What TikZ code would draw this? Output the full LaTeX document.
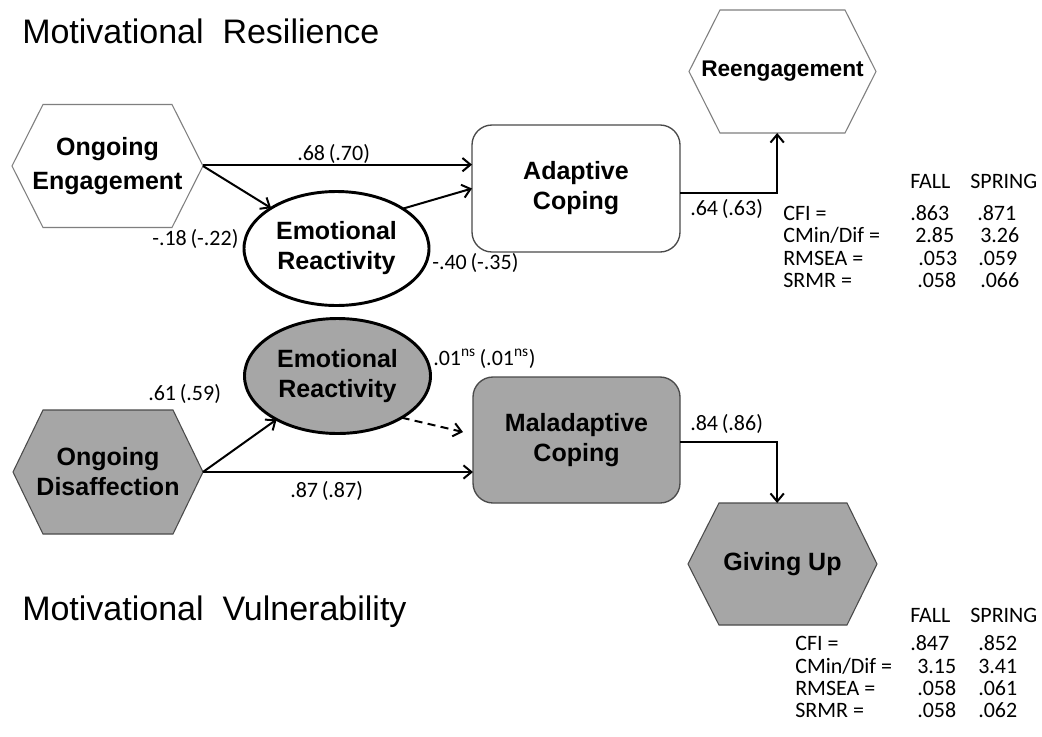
\documentclass[tikz,border=0pt]{standalone}
\usepackage{fontspec}
\setmainfont{Liberation Sans}
\newfontfamily\calfont{Carlito}
\usetikzlibrary{arrows.meta,calc,shapes.geometric}
\definecolor{shade}{HTML}{A6A6A6}
\definecolor{hexgray}{HTML}{7F7F7F}
\definecolor{darkline}{HTML}{4A4A4A}
\begin{document}
\begin{tikzpicture}[x=0.75pt,y=-0.75pt,
  lbl/.style={font=\fontsize{18.75}{22.5}\selectfont\bfseries, align=center, inner sep=0pt, outer sep=0pt},
  num/.style={font=\calfont\fontsize{16.5}{20}\selectfont, anchor=base west, inner sep=0pt},
  ttl/.style={font=\fontsize{25.5}{30}\selectfont, anchor=base west, inner sep=0pt},
  hexw/.style={draw=hexgray, line width=0.8pt, fill=white, line join=miter},
  hexg/.style={draw=darkline, line width=0.8pt, fill=shade, line join=miter},
  ell/.style={ellipse, draw=black, line width=2.2pt, inner sep=0pt},
  boxw/.style={draw=darkline, line width=1pt, rounded corners=15pt, fill=white},
  boxg/.style={draw=darkline, line width=1pt, rounded corners=15pt, fill=shade},
  arr/.style={draw=black, line width=1.5pt, -{Straight Barb[length=6pt,width=10pt,line width=1.5pt]}},
  dsh/.style={dash pattern=on 6pt off 4pt}
]
\fill[white] (0,0) rectangle (1042,736);
\useasboundingbox (0,0) rectangle (1042,736);

% titles
\node[ttl] (t1) at (22,43) {Motivational\ \ Resilience};
\node[ttl] (t2) at (22,620) {Motivational\ \ Vulnerability};

% hexagon outlines
\draw[hexw] (12,166) -- (43,104.5) -- (172,104.5) -- (203,166) -- (172,227.5) -- (43,227.5) -- cycle;
\draw[hexw] (689,71.5) -- (720,10) -- (845,10) -- (876,71.5) -- (845,133) -- (720,133) -- cycle;
\draw[hexg] (13,472) -- (43,410) -- (173,410) -- (203,472) -- (173,534) -- (43,534) -- cycle;
\draw[hexg] (688,564) -- (719,503) -- (847,503) -- (877,564) -- (847,625) -- (719,625) -- cycle;

% hexagon nodes
\node[lbl, minimum width=191*0.75pt, minimum height=123*0.75pt, font=\fontsize{18.75}{25.5}\selectfont\bfseries] (oe) at (107.5,166) {Ongoing\\Engagement};
\node[lbl, minimum width=187*0.75pt, minimum height=123*0.75pt, font=\fontsize{17}{20}\selectfont\bfseries] (re) at (782.5,71.5) {Reengagement};
\node[lbl, minimum width=190*0.75pt, minimum height=124*0.75pt] (od) at (108,472) {Ongoing\\Disaffection};
\node[lbl, minimum width=189*0.75pt, minimum height=122*0.75pt] (gu) at (782.5,564) {Giving Up};

% ellipses
\node[ell, fill=white, minimum width=185*0.75pt, minimum height=114*0.75pt, lbl] (er1) at (336.5,248.5) {Emotional\\Reactivity};
\node[ell, fill=shade, minimum width=186*0.75pt, minimum height=115*0.75pt, lbl] (er2) at (337.5,376) {Emotional\\Reactivity};

% coping boxes
\node[boxw, lbl, minimum width=208*0.75pt, minimum height=127*0.75pt] (ac) at (576,188.5) {Adaptive\\Coping};
\node[boxg, lbl, minimum width=207*0.75pt, minimum height=126*0.75pt] (mc) at (576.5,440) {Maladaptive\\Coping};

% connectors (resilience)
\draw[arr] ([yshift=1pt]oe.east) -- ([yshift=1pt]oe.east -| ac.west);
\draw[arr] (oe.east) -- (er1);
\draw[arr] (er1.31) -- (ac.west);
\draw[arr] ([yshift=-3.5pt]ac.east) -| ([xshift=-4pt]re.south);

% connectors (vulnerability)
\draw[arr] (od.east) -- (er2);
\draw[arr] (od.east) -- (od.east -| mc.west);
\draw[arr, dsh] (er2.-33) -- ($(mc.west)+(-10,-8)$);
\draw[arr] ([yshift=-1.5pt]mc.east) -| ([xshift=-4pt]gu.north);

% path coefficients
\node[num] (c1) at (297,160) {.68\,(.70)};
\node[num] (c2) at (152,245) {-.18\,(-.22)};
\node[num] (c3) at (432,269) {-.40\,(-.35)};
\node[num] (c4) at (690,215) {.64\,(.63)};
\node[num] (c5) at (148,400) {.61\,(.59)};
\node[num] (c6) at (290,497) {.87\,(.87)};
\node[num] (c7) at (433,365) {.01\textsuperscript{ns}\,(.01\textsuperscript{ns})};
\node[num] (c8) at (690,430) {.84\,(.86)};

% fit table 1
\node[num] (h1a) at (910,188) {FALL};
\node[num] (h1b) at (970,188) {SPRING};
\node[num] (r1a) at (783,220) {CFI =};
\node[num] (r1b) at (783,242) {CMin/Dif =};
\node[num] (r1c) at (783,265) {RMSEA =};
\node[num] (r1d) at (783,287) {SRMR =};
\node[num] (v1a) at (910,220) {.863};
\node[num] (v1b) at (915,242) {2.85};
\node[num] (v1c) at (918,265) {.053};
\node[num] (v1d) at (917,287) {.058};
\node[num] (w1a) at (977,220) {.871};
\node[num] (w1b) at (980,242) {3.26};
\node[num] (w1c) at (978,265) {.059};
\node[num] (w1d) at (980,287) {.066};

% fit table 2
\node[num] (h2a) at (910,622) {FALL};
\node[num] (h2b) at (970,622) {SPRING};
\node[num] (r2a) at (795,650) {CFI =};
\node[num] (r2b) at (795,673) {CMin/Dif =};
\node[num] (r2c) at (795,695) {RMSEA =};
\node[num] (r2d) at (795,717) {SRMR =};
\node[num] (v2a) at (910,650) {.847};
\node[num] (v2b) at (917,673) {3.15};
\node[num] (v2c) at (917,695) {.058};
\node[num] (v2d) at (917,717) {.058};
\node[num] (w2a) at (978,650) {.852};
\node[num] (w2b) at (978,673) {3.41};
\node[num] (w2c) at (978,695) {.061};
\node[num] (w2d) at (978,717) {.062};
\end{tikzpicture}
\end{document}
